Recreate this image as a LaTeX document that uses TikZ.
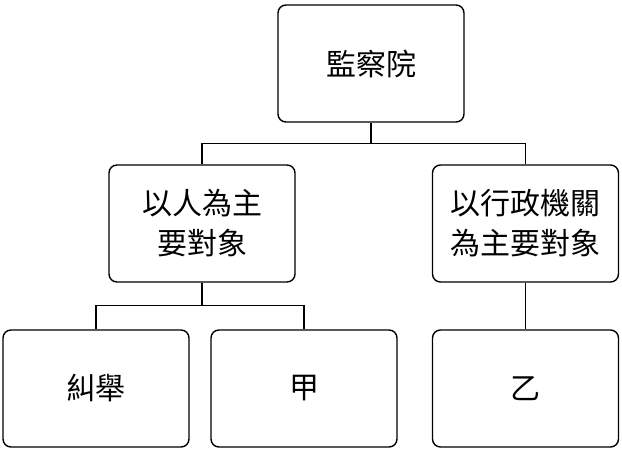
\documentclass[tikz,border=0pt]{standalone}
\usepackage{fontspec}
\newfontfamily\cjk{Noto Sans CJK TC}
\begin{document}
\begin{tikzpicture}[x=1pt,y=-1pt,
  box/.style={draw=black,line width=1.4pt,rounded corners=8pt,fill=white,
    minimum width=186pt,minimum height=117pt,inner sep=0pt,align=center,
    font=\cjk\fontsize{30}{40}\selectfont},
  conn/.style={draw=black,line width=1.4pt}]
\useasboundingbox (0,0) rectangle (622,449);
\node[box] (top) at (371,63.5) {監察院};
\node[box] (ml) at (202,223.5) {以人為主\\要對象};
\node[box] (mr) at (525.5,223.5) {以行政機關\\為主要對象};
\node[box] (b1) at (96,388.5) {糾舉};
\node[box] (b2) at (304,388.5) {甲};
\node[box] (b3) at (525.5,388.5) {乙};
\draw[conn] (top.south) -- ++(0,21) -| (ml.north);
\draw[conn] (top.south) ++(0,21) -| (mr.north);
\draw[conn] (ml.south) -- ++(0,23) -| (b1.north);
\draw[conn] (ml.south) ++(0,23) -| (b2.north);
\draw[conn] (mr.south) -- (b3.north);
\end{tikzpicture}
\end{document}
